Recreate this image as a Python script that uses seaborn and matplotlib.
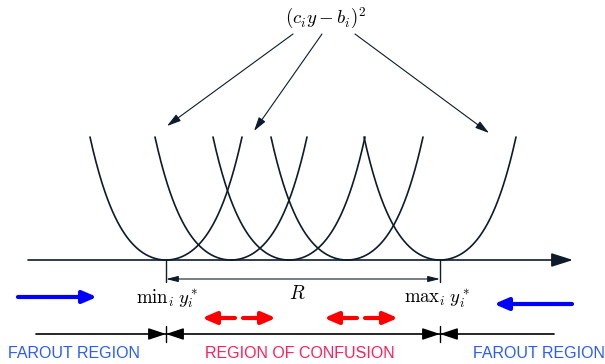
import numpy as np
import pandas as pd
import matplotlib
matplotlib.use("Agg")
import matplotlib.pyplot as plt
import seaborn as sns

# diagram values (pixel units of the 605x364 canvas, y grows downward)
centers = [166, 231, 289, 347, 440]      # minima y_i* of each parabola
half_width = 76
depth = 123
shape_coef = [0.6, 0.4]                  # weights of u^2 and u^4 in the U curves
axis_y = 260
axis_x = [28, 573]
arrow_tips = [(167, 126), (254, 131), (489, 133)]
arrow_starts = [(293, 34), (322, 34), (355, 34)]
red_arrows = [239, 361]
tick_xs = [166, 440]

ink = "#0d1b2a"
sns.set_theme(style="white")
plt.rcParams["mathtext.fontset"] = "cm"
plt.rcParams["font.family"] = ["Liberation Sans", "DejaVu Sans"]

fig = plt.figure(figsize=(6.05, 3.64), dpi=100)
ax = fig.add_axes([0, 0, 1, 1])

# U shaped curves
rows = []
for k, c in enumerate(centers):
    xs = np.linspace(c - half_width, c + half_width, 300)
    u = (xs - c) / half_width
    ys = axis_y - depth * (shape_coef[0] * u ** 2 + shape_coef[1] * u ** 4)
    for x, y in zip(xs, ys):
        rows.append({"x": x, "y": y, "curve": k})
df = pd.DataFrame(rows)
sns.lineplot(data=df, x="x", y="y", units="curve", estimator=None, sort=False,
             color=ink, lw=1.2, ax=ax, legend=False)
ax.set_xlim(0, 605)
ax.set_ylim(364, 0)
ax.axis("off")

# horizontal axis
ax.annotate("", xy=(axis_x[1], axis_y), xytext=(axis_x[0], axis_y),
            arrowprops=dict(arrowstyle="-|>,head_length=1.1,head_width=0.35",
                            color=ink, lw=1.2, shrinkA=0, shrinkB=0))

# label and arrows to curves
ax.text(326, 18, r"$(c_i y - b_i)^2$", ha="center", va="center", fontsize=13.5, color="black")
for s, t in zip(arrow_starts, arrow_tips):
    ax.annotate("", xy=t, xytext=s,
                arrowprops=dict(arrowstyle="-|>,head_length=0.7,head_width=0.2",
                                color=ink, lw=0.8, shrinkA=0, shrinkB=0))

# R dimension
for tx in tick_xs:
    ax.plot([tx, tx], [axis_y, 282], color=ink, lw=1.0)
ax.annotate("", xy=(tick_xs[1], 279), xytext=(tick_xs[0], 279),
            arrowprops=dict(arrowstyle="<|-|>,head_length=0.6,head_width=0.15",
                            color=ink, lw=0.8, shrinkA=0, shrinkB=0))
ax.text(297, 294, r"$R$", ha="center", va="center", fontsize=14, color="black")
ax.text(167, 299, r"$\mathrm{min}_i\; y_i^*$", ha="center", va="center", fontsize=13.5, color="black")
ax.text(437, 299, r"$\mathrm{max}_i\; y_i^*$", ha="center", va="center", fontsize=13.5, color="black")

# blue farout arrows
ax.annotate("", xy=(97, 297), xytext=(18, 297),
            arrowprops=dict(arrowstyle="-|>,head_length=0.7,head_width=0.3",
                            color="#0000ff", lw=3.0, shrinkA=0, shrinkB=0))
ax.annotate("", xy=(494, 304), xytext=(572, 304),
            arrowprops=dict(arrowstyle="-|>,head_length=0.7,head_width=0.3",
                            color="#0000ff", lw=3.0, shrinkA=0, shrinkB=0))

# red dashed double arrows
for cx in red_arrows:
    ax.annotate("", xy=(cx - 37, 318), xytext=(cx - 4, 318),
                arrowprops=dict(arrowstyle="-|>,head_length=0.7,head_width=0.3",
                                color="#ff0000", lw=3.0, shrinkA=0, shrinkB=0))
    ax.annotate("", xy=(cx + 37, 318), xytext=(cx + 4, 318),
                arrowprops=dict(arrowstyle="-|>,head_length=0.7,head_width=0.3",
                                color="#ff0000", lw=3.0, shrinkA=0, shrinkB=0))

# lower region line
ax.plot([36, 554], [334, 334], color="black", lw=1.2)
for tx in tick_xs:
    ax.plot([tx, tx], [326, 342], color="black", lw=1.0)
    ax.annotate("", xy=(tx, 334), xytext=(tx - 14, 334),
                arrowprops=dict(arrowstyle="-|>,head_length=0.9,head_width=0.3",
                                color="black", lw=1.0, shrinkA=0, shrinkB=0))
    ax.annotate("", xy=(tx, 334), xytext=(tx + 14, 334),
                arrowprops=dict(arrowstyle="-|>,head_length=0.9,head_width=0.3",
                                color="black", lw=1.0, shrinkA=0, shrinkB=0))

ax.text(8, 354, "FAROUT REGION", ha="left", va="center", fontsize=11.5, color="#2a5bff")
ax.text(300, 354, "REGION OF CONFUSION", ha="center", va="center", fontsize=11.5, color="#ff1f5a")
ax.text(605, 354, "FAROUT REGION", ha="right", va="center", fontsize=11.5, color="#2a5bff")

fig.savefig("out.png", dpi=100)
